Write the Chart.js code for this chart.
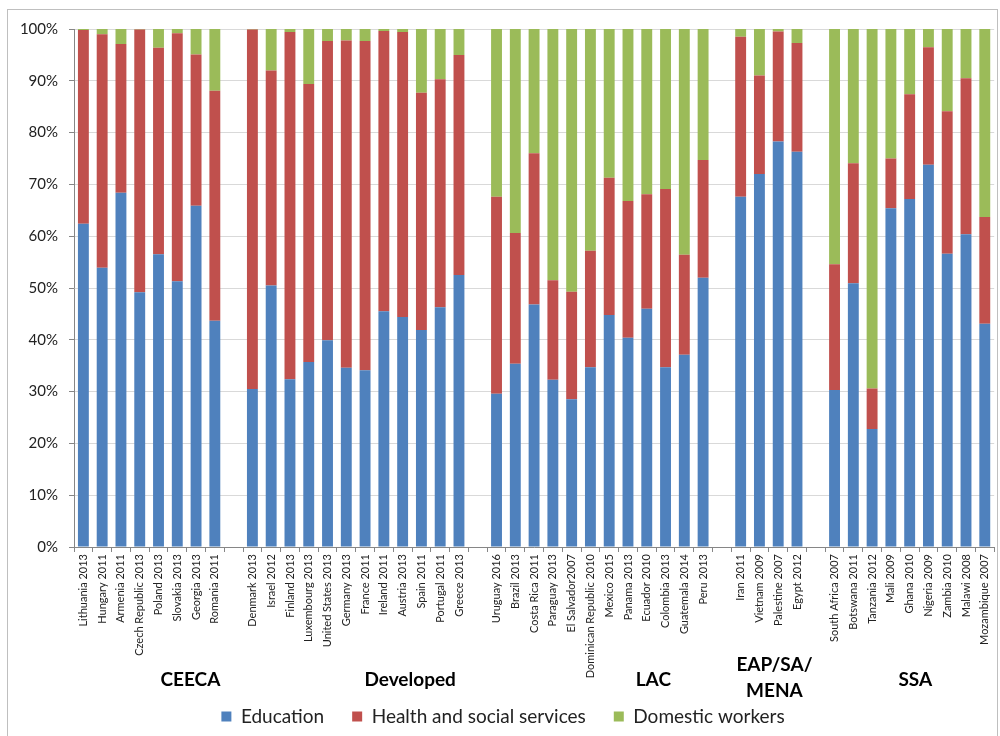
<!DOCTYPE html>
<html>
<head>
<meta charset="utf-8">
<script src="https://cdn.jsdelivr.net/npm/chart.js@4/dist/chart.umd.min.js"></script>
<style>
  html, body { margin: 0; padding: 0; background: #fff; }
  #wrap { width: 1000px; height: 736px; position: relative; }
</style>
</head>
<body>
<div id="wrap"><canvas id="myChart"></canvas></div>
<script>
const labels = [
  'Lithuania 2013', 'Hungary 2011', 'Armenia 2011', 'Czech Republic 2013', 'Poland 2013', 'Slovakia 2013', 'Georgia 2013', 'Romania 2011',
  '',
  'Denmark 2013', 'Israel 2012', 'Finland 2013', 'Luxembourg 2013', 'United States 2013', 'Germany 2013', 'France 2011', 'Ireland 2011', 'Austria 2013', 'Spain 2011', 'Portugal 2011', 'Greece 2013',
  '',
  'Uruguay 2016', 'Brazil 2013', 'Costa Rica 2011', 'Paraguay 2013', 'El Salvador2007', 'Dominican Republic 2010', 'Mexico 2015', 'Panama 2013', 'Ecuador 2010', 'Colombia 2013', 'Guatemala 2014', 'Peru 2013',
  '',
  'Iran 2011', 'Vietnam 2009', 'Palestine 2007', 'Egypt 2012',
  '',
  'South Africa 2007', 'Botswana 2011', 'Tanzania 2012', 'Mali 2009', 'Ghana 2010', 'Nigeria 2009', 'Zambia 2010', 'Malawi 2008', 'Mozambique 2007'
];

const education = [
  62.4, 53.9, 68.4, 49.2, 56.5, 51.3, 65.9, 43.7, null,
  30.5, 50.5, 32.4, 35.7, 39.9, 34.6, 34.1, 45.5, 44.4, 41.9, 46.3, 52.5, null,
  29.6, 35.4, 46.8, 32.3, 28.5, 34.7, 44.8, 40.4, 46.0, 34.7, 37.1, 52.0, null,
  67.6, 72.0, 78.3, 76.3, null,
  30.3, 50.9, 22.8, 65.4, 67.2, 73.8, 56.6, 60.4, 43.1
];

const health = [
  37.4, 45.1, 28.7, 50.7, 39.9, 47.9, 29.2, 44.4, null,
  69.4, 41.5, 67.0, 53.7, 57.8, 63.2, 63.6, 54.1, 55.0, 45.8, 44.0, 42.5, null,
  38.0, 25.2, 29.2, 19.2, 20.8, 22.5, 26.5, 26.4, 22.1, 34.4, 19.3, 22.7, null,
  30.9, 19.0, 21.2, 21.0, null,
  24.3, 23.2, 7.8, 9.6, 20.2, 22.7, 27.5, 30.1, 20.6
];

const domestic = [
  0.2, 1.0, 2.9, 0.1, 3.6, 0.8, 4.9, 11.9, null,
  0.1, 8.0, 0.6, 10.6, 2.3, 2.2, 2.3, 0.4, 0.6, 12.3, 9.7, 5.0, null,
  32.4, 39.4, 24.0, 48.5, 50.7, 42.8, 28.7, 33.2, 31.9, 30.9, 43.6, 25.3, null,
  1.5, 9.0, 0.5, 2.7, null,
  45.4, 25.9, 69.4, 25.0, 12.6, 3.5, 15.9, 9.5, 36.3
];

const groupNames = ['CEECA', 'Developed', 'LAC', 'EAP/SA/\nMENA', 'SSA'];

const FONT = 'Lato, "Open Sans", sans-serif';

// region names under the axis, placed by hand like the original
const groupLabels = {
  id: 'groupLabels',
  afterDraw(chart) {
    const ctx = chart.ctx;
    const x = chart.scales.x;
    const slot = (x.right - x.left) / labels.length;
    const at = [5.7, 17.4, 30.35, 36.8, 44.3];
    ctx.save();
    ctx.fillStyle = '#000';
    ctx.font = 'bold 19px ' + FONT;
    ctx.textAlign = 'center';
    ctx.textBaseline = 'middle';
    groupNames.forEach((name, i) => {
      const cx = x.left + (at[i] + 0.5) * slot;
      const lines = name.split('\n');
      if (lines.length === 1) {
        ctx.fillText(name, cx, 680);
      } else {
        ctx.fillText(lines[0], cx, 665);
        ctx.fillText(lines[1], cx, 691);
      }
    });
    // outer frame
    ctx.strokeStyle = '#bfbfbf';
    ctx.lineWidth = 1;
    ctx.strokeRect(7.5, 9.5, 990, 740);
    ctx.restore();
  }
};

function buildChart() {
  const ctx = document.getElementById('myChart').getContext('2d');
  const common = { categoryPercentage: 1, barPercentage: 0.58 };

  const myChart = new Chart(ctx, {
    type: 'bar',
    data: {
      labels: labels,
      datasets: [
        { label: 'Education', data: education, backgroundColor: '#4f81bd', ...common },
        { label: 'Health and social services', data: health, backgroundColor: '#c0504d', ...common },
        { label: 'Domestic workers', data: domestic, backgroundColor: '#9bbb59', ...common }
      ]
    },
    options: {
      responsive: true,
      maintainAspectRatio: false,
      animation: false,
      layout: { padding: { left: 8, top: 29, right: 2, bottom: 0 } },
      plugins: {
        legend: {
          position: 'bottom',
          labels: {
            boxWidth: 10, boxHeight: 10, padding: 28,
            color: '#222',
            font: { family: FONT, size: 19 }
          }
        },
        tooltip: { enabled: false }
      },
      scales: {
        x: {
          stacked: true,
          afterFit(scale) { scale.height = 132; },
          grid: {
            offset: true, drawOnChartArea: false, drawTicks: true,
            tickLength: 5, tickColor: '#868686'
          },
          border: { color: '#868686' },
          ticks: {
            autoSkip: false, minRotation: 90, maxRotation: 90, padding: 2,
            color: '#222',
            font: { family: FONT, size: 11 }
          }
        },
        y: {
          stacked: true,
          min: 0, max: 100,
          afterFit(scale) { scale.width = 66; },
          grid: { color: '#d9d9d9', tickLength: 5, tickColor: '#868686' },
          border: { color: '#868686' },
          ticks: {
            stepSize: 10, padding: 11,
            color: '#222',
            font: { family: FONT, size: 15 },
            callback: (v) => v + '%'
          }
        }
      }
    },
    plugins: [groupLabels]
  });

  return myChart;
}

buildChart();
</script>
</body>
</html>
